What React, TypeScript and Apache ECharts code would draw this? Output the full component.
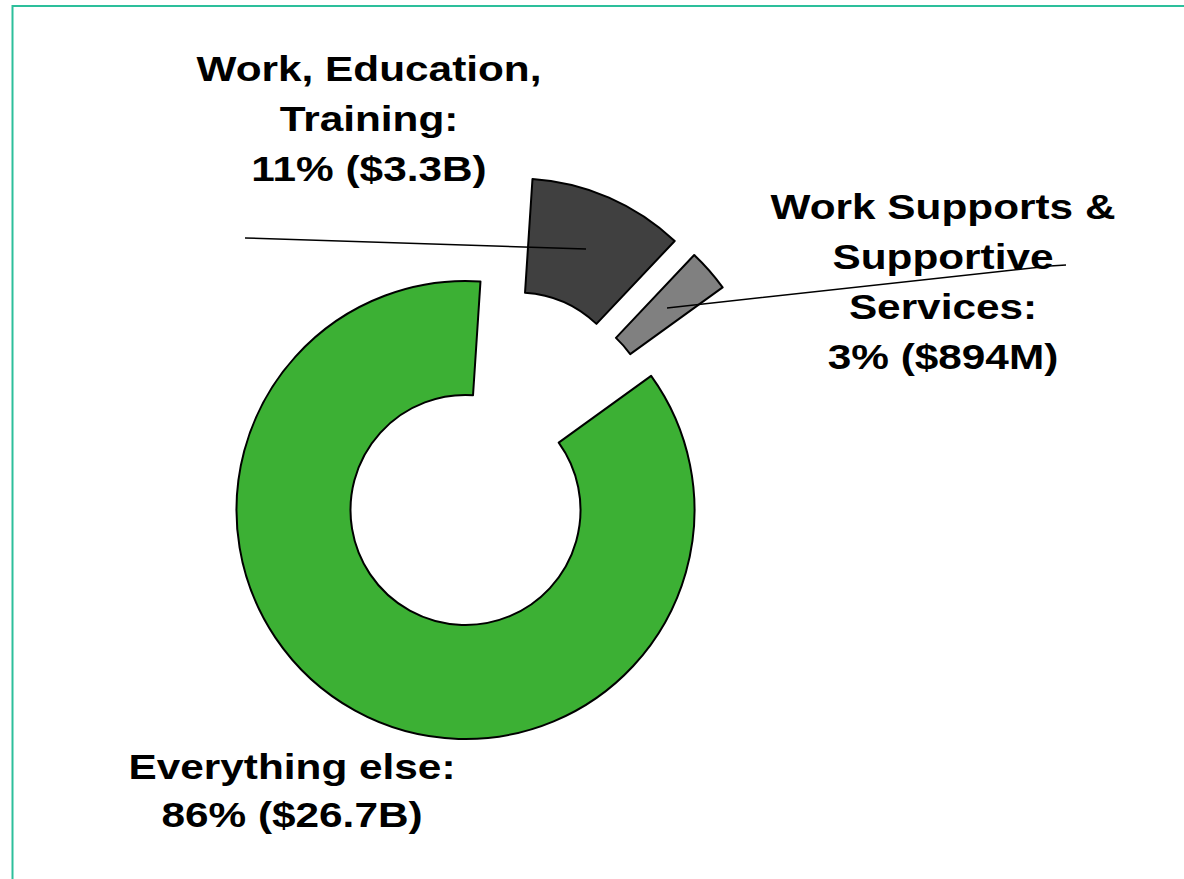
import React, { useEffect, useRef } from "react";
import * as echarts from "echarts";

// ---- data ----
const categories: string[] = [
  "Work, Education,\nTraining:",
  "Work Supports &\nSupportive\nServices:",
  "Everything else:",
];
const sharePercent: number[] = [11, 3, 86];
const amounts: string[] = ["$3.3B", "$894M", "$26.7B"];
const sliceColors: string[] = ["#404040", "#808080", "#3cb034"];

// ---- layout (pixels) ----
const sliceCenters: [number, number][] = [
  [517.5, 407.5],
  [537, 421.5],
  [465.5, 510],
];
const labelPos: { x: number; y: number; lh: number }[] = [
  { x: 369, y: 119, lh: 50 },
  { x: 943, y: 282, lh: 50 },
  { x: 292, y: 791, lh: 48 },
];

export default function App() {
  const ref = useRef<HTMLDivElement>(null);

  useEffect(() => {
    if (!ref.current) return;
    const chart = echarts.init(ref.current, undefined, { renderer: "svg" });

    const series = categories.map((_, si) => ({
      type: "pie",
      name: "s" + si,
      center: sliceCenters[si],
      radius: [115, 229],
      startAngle: 86.25,
      clockwise: true,
      avoidLabelOverlap: false,
      silent: true,
      z: 2 + si,
      label: { show: false },
      labelLine: { show: false },
      emphasis: { disabled: true },
      data: categories.map((c, j) => ({
        name: c,
        value: sharePercent[j],
        itemStyle:
          j === si
            ? { color: sliceColors[j], borderColor: "#000", borderWidth: 2 }
            : { color: "rgba(0,0,0,0)", borderWidth: 0 },
      })),
    }));

    const labels = categories.map((c, i) => ({
      type: "text",
      x: labelPos[i].x,
      y: labelPos[i].y,
      scaleX: 1.21,
      z: 100,
      style: {
        text: `${c}\n${sharePercent[i]}% (${amounts[i]})`,
        fill: "#000",
        fontSize: 35,
        fontWeight: "bold",
        fontFamily: "Liberation Sans, Arial, sans-serif",
        align: "center",
        verticalAlign: "middle",
        lineHeight: labelPos[i].lh,
      },
    }));

    chart.setOption({
      animation: false,
      backgroundColor: "#ffffff",
      series,
      graphic: [
        {
          type: "rect",
          z: 50,
          shape: { x: 12.5, y: 6, width: 1400, height: 1100 },
          style: { fill: "none", stroke: "#2dbf9b", lineWidth: 2 },
        },
        ...labels,
        {
          type: "polyline",
          z: 101,
          shape: { points: [[245, 238], [586, 249]] },
          style: { stroke: "#000", lineWidth: 1.5, fill: "none" },
        },
        {
          type: "polyline",
          z: 101,
          shape: { points: [[667, 308], [1050, 266], [1066, 265]] },
          style: { stroke: "#000", lineWidth: 1.5, fill: "none" },
        },
      ],
    });

    return () => chart.dispose();
  }, []);

  return (
    <div
      ref={ref}
      style={{ position: "absolute", left: 0, top: 0, width: 1184, height: 879 }}
    />
  );
}
